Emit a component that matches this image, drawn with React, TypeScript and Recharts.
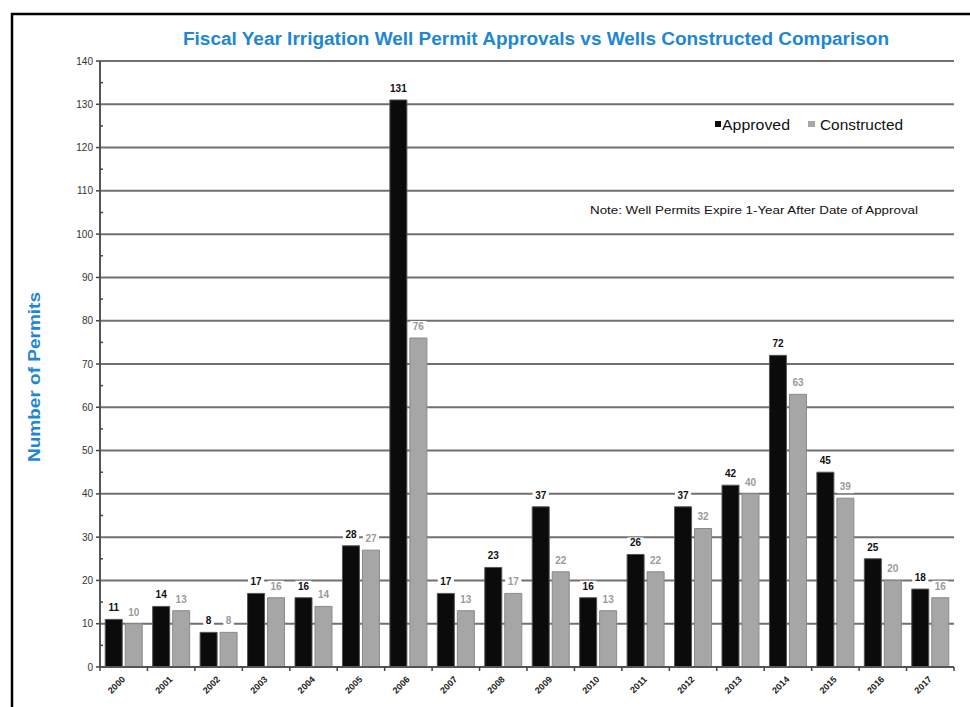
import React from 'react';
import { BarChart, Bar, XAxis, YAxis, CartesianGrid, LabelList } from 'recharts';

const years = ['2000', '2001', '2002', '2003', '2004', '2005', '2006', '2007', '2008', '2009', '2010', '2011', '2012', '2013', '2014', '2015', '2016', '2017'];
const approved = [11, 14, 8, 17, 16, 28, 131, 17, 23, 37, 16, 26, 37, 42, 72, 45, 25, 18];
const constructed = [10, 13, 8, 16, 14, 27, 76, 13, 17, 22, 13, 22, 32, 40, 63, 39, 20, 16];
const yTicks = [0, 5, 10, 15, 20, 25, 30, 35, 40, 45, 50, 55, 60, 65, 70, 75, 80, 85, 90, 95, 100, 105, 110, 115, 120, 125, 130, 135, 140];
const seriesNames = ['Approved', 'Constructed'];

const title = 'Fiscal Year Irrigation Well Permit Approvals vs Wells Constructed Comparison';
const yTitle = 'Number of Permits';
const note = 'Note:  Well Permits Expire 1-Year After Date of Approval';

const data = years.map((y, i) => ({ year: y, Approved: approved[i], Constructed: constructed[i] }));

const BLUE = '#1e87d2';
const GRID = '#707070';
const BLACK_BAR = '#0b0b0b';
const GRAY_BAR = '#a6a6a6';

const YTick = (props: any) => {
  const { x, y, payload } = props;
  const v = payload.value;
  if (v % 10 !== 0) {
    return <line x1={x} x2={x + 3} y1={y} y2={y} stroke="#444" strokeWidth={1.5} />;
  }
  return (
    <g>
      <line x1={x - 4} x2={x} y1={y} y2={y} stroke="#444" strokeWidth={1.5} />
      <text x={x - 7} y={y + 3.5} textAnchor="end" fontSize={10} fill="#333" fontFamily="Liberation Sans, Arial, sans-serif">{v}</text>
    </g>
  );
};

const XTick = (props: any) => {
  const { x, y, payload, index, visibleTicksCount, width } = props;
  const band = width && visibleTicksCount ? width / visibleTicksCount : 47.44;
  const ax = x + 2;
  const ay = y + 13;
  return (
    <g>
      <line x1={x - band / 2} x2={x - band / 2} y1={y} y2={y + 4} stroke="#444" strokeWidth={1.5} />
      {index === visibleTicksCount - 1 ? (
        <line x1={x + band / 2} x2={x + band / 2} y1={y} y2={y + 4} stroke="#444" strokeWidth={1.5} />
      ) : null}
      <text x={ax} y={ay} textAnchor="end" fontSize={9} fontWeight="bold" fill="#222" fontFamily="Liberation Sans, Arial, sans-serif" transform={`rotate(-45, ${ax}, ${ay})`}>
        {payload.value}
      </text>
    </g>
  );
};

const gridLine = (props: any) => {
  const { x1, x2, y1, y2, index } = props;
  return <line key={`g-${index}`} x1={x1} x2={x2} y1={y1} y2={y2} stroke={index % 2 === 0 ? GRID : 'none'} strokeWidth={2} />;
};

const makeLabel = (color: string) => (props: any) => {
  const { x, y, width, value } = props;
  const cx = Number(x) + Number(width) / 2;
  const ty = Number(y) - 8;
  const s = String(value);
  const w = s.length * 5.6 + 5;
  return (
    <g>
      <rect x={cx - w / 2} y={ty - 9} width={w} height={12} fill="#fff" />
      <text x={cx} y={ty} textAnchor="middle" fontSize={10} fontWeight="bold" fill={color} fontFamily="Liberation Sans Narrow, Liberation Sans, Arial, sans-serif">{s}</text>
    </g>
  );
};

export default function App() {
  return (
    <div style={{ position: 'absolute', left: 0, top: 0, width: 970, height: 707, background: '#fff', overflow: 'hidden' }}>
      <BarChart width={970} height={707} data={data} margin={{ top: 61, right: 16, left: 0, bottom: 0 }} barCategoryGap="11%" barGap={3}>
        <CartesianGrid vertical={false} horizontal={gridLine} />
        <XAxis dataKey="year" height={40} interval={0} tickSize={0} tickMargin={0} tickLine={false} axisLine={{ stroke: '#555', strokeWidth: 2 }} tick={<XTick />} />
        <YAxis width={100} domain={[0, 140]} ticks={yTicks} interval={0} tickSize={0} tickMargin={0} tickLine={false} axisLine={{ stroke: '#555', strokeWidth: 2 }} tick={<YTick />} />
        <YAxis yAxisId="r" orientation="right" width={0} domain={[0, 140]} tick={false} tickLine={false} axisLine={{ stroke: '#555', strokeWidth: 2 }} />
        <Bar dataKey="Approved" fill={BLACK_BAR} stroke="#555" strokeWidth={1} isAnimationActive={false}>
          <LabelList dataKey="Approved" content={makeLabel('#111')} />
        </Bar>
        <Bar dataKey="Constructed" fill={GRAY_BAR} stroke="#8a8a8a" strokeWidth={1} isAnimationActive={false}>
          <LabelList dataKey="Constructed" content={makeLabel('#9a9a9a')} />
        </Bar>
      </BarChart>
      <svg width={970} height={707} style={{ position: 'absolute', left: 0, top: 0, pointerEvents: 'none' }}>
        <rect x={12} y={14} width={1000} height={800} fill="none" stroke="#000" strokeWidth={2.5} />
        <text x={536} y={45} textAnchor="middle" fontSize={18} fontWeight="bold" fill={BLUE} fontFamily="Liberation Sans Narrow, Liberation Sans, Arial, sans-serif" textLength={706} lengthAdjust="spacingAndGlyphs">{title}</text>
        <text x={40} y={377} textAnchor="middle" fontSize={17} fontWeight="bold" fill={BLUE} fontFamily="Liberation Sans, Arial, sans-serif" transform="rotate(-90, 40, 377)" textLength={170} lengthAdjust="spacingAndGlyphs">{yTitle}</text>
        <text x={590} y={214} fontSize={11.5} fill="#111" fontFamily="Liberation Sans, Arial, sans-serif" textLength={328} lengthAdjust="spacingAndGlyphs">{note}</text>
        <g>
          <rect x={715} y={121} width={6} height={6} fill={BLACK_BAR} />
          <text x={722} y={130} fontSize={15} fill="#111" fontFamily="Liberation Sans, Arial, sans-serif" textLength={68} lengthAdjust="spacingAndGlyphs">{seriesNames[0]}</text>
          <rect x={808} y={121} width={7} height={6} fill={GRAY_BAR} />
          <text x={820} y={130} fontSize={15} fill="#111" fontFamily="Liberation Sans, Arial, sans-serif" textLength={83} lengthAdjust="spacingAndGlyphs">{seriesNames[1]}</text>
        </g>
      </svg>
    </div>
  );
}
